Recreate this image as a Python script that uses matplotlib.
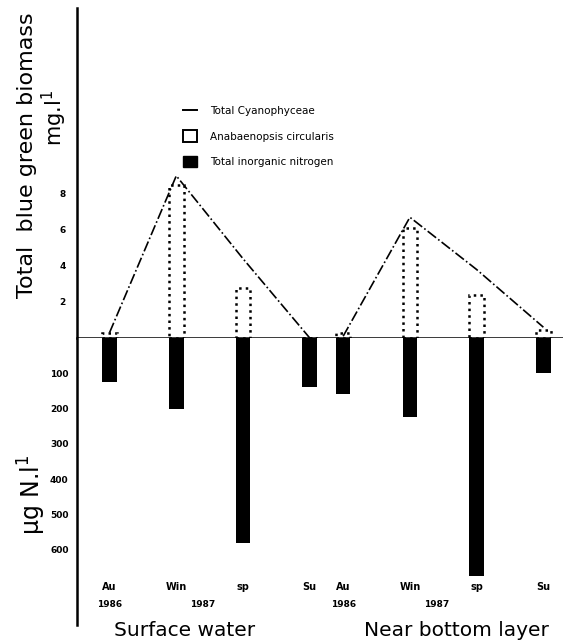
import matplotlib.pyplot as plt
from matplotlib.lines import Line2D
from matplotlib.patches import Patch
from matplotlib.transforms import blended_transform_factory

# season positions: surface water then near bottom layer
seasons = ["Au", "Win", "sp", "Su", "Au", "Win", "sp", "Su"]
xpos = [0, 1, 2, 3, 3.5, 4.5, 5.5, 6.5]

# mg/l
total_cyano = [0.3, 9.0, 4.4, 0.0, 0.1, 6.7, 3.8, 0.6]
anabaenopsis = [0.3, 8.5, 2.8, 0.0, 0.3, 6.1, 2.4, 0.45]
# ug N/l
inorganic_n = [125, 200, 580, 140, 160, 225, 675, 100]

years = ["1986", "1987", "1986", "1987"]
year_x = [0, 1.4, 3.5, 4.9]

fig = plt.figure(figsize=(5.65, 6.43), dpi=100)
plt.rcParams['font.family'] = ['DejaVu Sans']

left, width = 0.136, 0.86
ax1 = fig.add_axes([left, 0.4743, width, 0.513])
ax2 = fig.add_axes([left, 0.028, width, 0.4463], sharex=ax1)

w = 0.22
# upper part: blue green biomass
ax1.bar(xpos, anabaenopsis, width=w, facecolor="white", edgecolor="black",
        linestyle=":", linewidth=1.8)
ax1.plot(xpos[:4], total_cyano[:4], color="black", linestyle="-.", linewidth=1.2)
ax1.plot(xpos[4:], total_cyano[4:], color="black", linestyle="-.", linewidth=1.2)
ax1.set_ylim(0, 18.3)
ax1.set_xlim(-0.49, 6.79)
ax1.set_yticks([2, 4, 6, 8])
ax1.set_yticklabels(["2", "4", "6", "8"], fontsize=6.5, fontweight="bold")
ax1.tick_params(axis="y", length=0, pad=8)
ax1.tick_params(axis="x", length=0, labelbottom=False)
ax1.axhline(0, color="black", linewidth=1.8)
for s in ["top", "right", "bottom"]:
    ax1.spines[s].set_visible(False)
ax1.spines["left"].set_linewidth(1.8)

handles = [Line2D([0], [0], color="black", linewidth=1.4),
           Patch(facecolor="white", edgecolor="black", linewidth=1.4),
           Patch(facecolor="black", edgecolor="black")]
labels = ["Total Cyanophyceae", "Anabaenopsis circularis", "Total inorganic nitrogen"]
ax1.legend(handles, labels, loc="upper left", bbox_to_anchor=(0.2, 0.735),
           frameon=False, fontsize=7.5, handlelength=1.3, handleheight=1.3,
           labelspacing=1.35, handletextpad=1.3)

# lower part: inorganic nitrogen
ax2.bar(xpos, inorganic_n, width=w, color="black")
ax2.set_ylim(814, 0)
ax2.set_yticks([100, 200, 300, 400, 500, 600])
ax2.set_yticklabels(["100", "200", "300", "400", "500", "600"], fontsize=6.5,
                    fontweight="bold")
ax2.tick_params(axis="y", length=0, pad=6)
ax2.tick_params(axis="x", length=0, labelbottom=False)
for s in ["top", "right", "bottom"]:
    ax2.spines[s].set_visible(False)
ax2.spines["left"].set_linewidth(1.8)

tr = blended_transform_factory(ax2.transData, ax2.transAxes)
for x, s in zip(xpos, seasons):
    ax2.text(x, 0.132, s, transform=tr, ha="center", va="center",
             fontsize=7, fontweight="bold")
for x, y in zip(year_x, years):
    ax2.text(x, 0.07, y, transform=tr, ha="center", va="center",
             fontsize=6.5, fontweight="bold")

fig.text(185 / 565, 1 - 630 / 643, "Surface water", ha="center", va="center",
         fontsize=14.5)
fig.text(456 / 565, 1 - 630 / 643, "Near bottom layer", ha="center", va="center",
         fontsize=14.5)

fig.text(27 / 565, 1 - 155 / 643, "Total  blue green biomass", rotation=90,
         ha="center", va="center", fontsize=16)
fig.text(54 / 565, 1 - 118 / 643, "mg.l$^{1}$", rotation=90,
         ha="center", va="center", fontsize=15)
fig.text(32 / 565, 1 - 495 / 643, "\u00b5g N.l$^{1}$", rotation=90,
         ha="center", va="center", fontsize=17)

fig.savefig("out.png", dpi=100)
